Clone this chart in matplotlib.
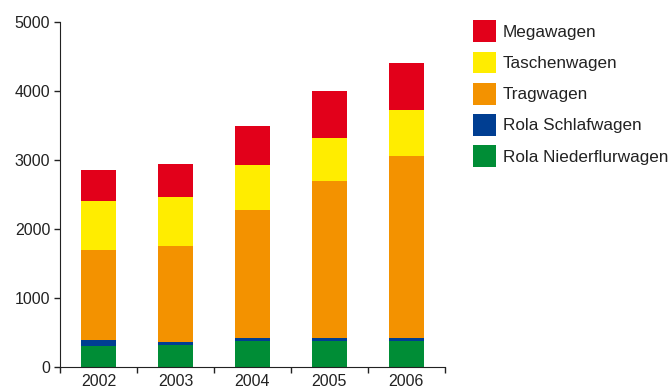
import matplotlib.pyplot as plt
import numpy as np

years = ['2002', '2003', '2004', '2005', '2006']
niederflur = [305, 320, 375, 375, 375]
schlafwagen = [85, 40, 45, 45, 45]
tragwagen = [1305, 1390, 1855, 2275, 2635]
taschenwagen = [710, 710, 650, 625, 670]
megawagen = [450, 480, 565, 680, 680]

series = [
    ('Rola Niederflurwagen', niederflur, '#008d36'),
    ('Rola Schlafwagen', schlafwagen, '#003e92'),
    ('Tragwagen', tragwagen, '#f39200'),
    ('Taschenwagen', taschenwagen, '#ffed00'),
    ('Megawagen', megawagen, '#e2001a'),
]

plt.rcParams['font.family'] = ['Liberation Sans', 'DejaVu Sans']
plt.rcParams['text.color'] = '#222222'

fig = plt.figure(figsize=(6.7, 3.91), dpi=100)
ax = fig.add_axes([0.0896, 0.0614, 0.664 - 0.0896, 0.9437 - 0.0614])

x = np.arange(len(years))
bottom = np.zeros(len(years))
handles = []
for label, vals, color in series:
    h = ax.bar(x, vals, width=0.45, bottom=bottom, color=color, label=label, linewidth=0)
    handles.append(h)
    bottom += np.array(vals)

ax.set_xlim(-0.5, len(years) - 0.5)
ax.set_ylim(0, 5000)
ax.set_yticks(range(0, 5001, 1000))
ax.spines['top'].set_visible(False)
ax.spines['right'].set_visible(False)
ax.spines['left'].set_color('#222222')
ax.spines['bottom'].set_color('#222222')

# separators between years as major ticks, year labels as minor ticks
ax.set_xticks(np.arange(-0.5, len(years)), [''] * (len(years) + 1))
ax.set_xticks(x, years, minor=True)
ax.tick_params(axis='x', which='major', length=4, width=1, color='#222222')
ax.tick_params(axis='x', which='minor', length=0, pad=5, labelsize=11.5, labelcolor='#222222')
ax.tick_params(axis='y', length=4, width=1, color='#222222', labelsize=11.5, labelcolor='#222222', pad=3)

leg = fig.legend(handles[::-1], [s[0] for s in series][::-1],
                 loc='upper left', bbox_to_anchor=(0.706, 0.948),
                 frameon=False, fontsize=12.3, handlelength=1.35, handleheight=1.6,
                 labelspacing=0.54, handletextpad=0.4, borderpad=0, borderaxespad=0)

fig.savefig('out.png', dpi=100)
